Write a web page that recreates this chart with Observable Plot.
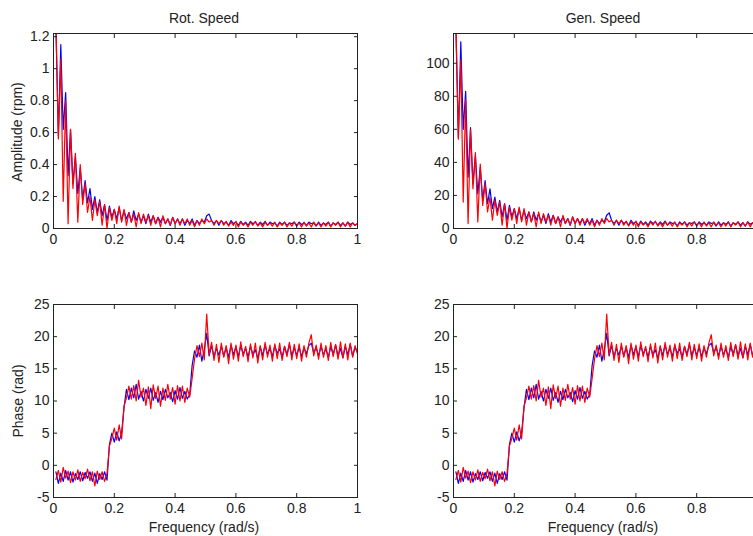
<!DOCTYPE html>
<html>
<head>
<meta charset="utf-8">
<script src="https://cdn.jsdelivr.net/npm/d3@7"></script>
<script src="https://cdn.jsdelivr.net/npm/@observablehq/plot@0.6"></script>
<style>
  html, body { margin: 0; padding: 0; background: #fff; }
  #wrap { position: relative; width: 753px; height: 536px; overflow: hidden; background: #fff;
          font-family: "Liberation Sans", Arial, sans-serif; color: #222; }
  .pl { position: absolute; }
  .lbl { position: absolute; font-size: 14px; line-height: 1; white-space: nowrap; transform: translate(-50%, -50%); }
  .rot { transform: translate(-50%, -50%) rotate(-90deg); }
</style>
</head>
<body>
<div id="wrap"></div>
<script>
// ---- data ----
const freqStep = 0.008;           // rad/s sampling of the spectrum
const nPoints = 125;
const titles = ["Rot. Speed", "Gen. Speed"];
const xTicks = [0, 0.2, 0.4, 0.6, 0.8, 1];
const ampRotTicks = [0, 0.2, 0.4, 0.6, 0.8, 1, 1.2];
const ampGenTicks = [0, 20, 40, 60, 80, 100];
const phaseTicks = [-5, 0, 5, 10, 15, 20, 25];

const rotAmpBlue = [
  1.25, 0.58, 1.15, 0.62, 0.85, 0.33, 0.62, 0.28, 0.45, 0.22,
  0.38, 0.18, 0.30, 0.16, 0.25, 0.12, 0.20, 0.10, 0.18, 0.08,
  0.15, 0.05, 0.14, 0.07, 0.12, 0.06, 0.13, 0.05, 0.11, 0.06,
  0.10, 0.04, 0.11, 0.05, 0.09, 0.04, 0.08, 0.03, 0.09, 0.04,
  0.08, 0.03, 0.07, 0.04, 0.07, 0.03, 0.06, 0.02, 0.07, 0.03,
  0.06, 0.03, 0.06, 0.02, 0.05, 0.03, 0.06, 0.02, 0.05, 0.03,
  0.05, 0.04, 0.08, 0.09, 0.05, 0.03, 0.05, 0.02, 0.05, 0.03,
  0.04, 0.02, 0.05, 0.03, 0.04, 0.02, 0.045, 0.025, 0.04, 0.02,
  0.045, 0.03, 0.04, 0.02, 0.04, 0.025, 0.045, 0.02, 0.04, 0.03,
  0.035, 0.015, 0.04, 0.025, 0.04, 0.02, 0.035, 0.03, 0.04, 0.015,
  0.04, 0.025, 0.035, 0.02, 0.04, 0.03, 0.035, 0.015, 0.04, 0.02,
  0.035, 0.025, 0.04, 0.015, 0.035, 0.025, 0.04, 0.02, 0.035, 0.015,
  0.04, 0.025, 0.035, 0.02, 0.03
];
const rotAmpRed = [
  1.30, 0.56, 1.06, 0.17, 0.80, 0.03, 0.62, 0.25, 0.47, 0.04,
  0.40, 0.15, 0.28, 0.10, 0.20, 0.05, 0.18, 0.08, 0.17, 0.02,
  0.15, 0.00, 0.13, 0.05, 0.12, 0.03, 0.14, 0.04, 0.12, 0.02,
  0.10, 0.04, 0.09, 0.01, 0.10, 0.03, 0.09, 0.04, 0.08, 0.02,
  0.08, 0.03, 0.07, 0.01, 0.08, 0.03, 0.06, 0.02, 0.07, 0.03,
  0.06, 0.02, 0.06, 0.03, 0.06, 0.02, 0.05, 0.01, 0.05, 0.02,
  0.06, 0.03, 0.06, 0.04, 0.05, 0.02, 0.05, 0.03, 0.05, 0.02,
  0.045, 0.015, 0.04, 0.02, 0.045, 0.01, 0.04, 0.02, 0.035, 0.01,
  0.04, 0.02, 0.045, 0.015, 0.035, 0.01, 0.04, 0.02, 0.035, 0.015,
  0.04, 0.01, 0.035, 0.02, 0.04, 0.01, 0.035, 0.015, 0.04, 0.02,
  0.035, 0.01, 0.04, 0.015, 0.035, 0.01, 0.04, 0.02, 0.035, 0.01,
  0.035, 0.015, 0.04, 0.01, 0.035, 0.02, 0.04, 0.01, 0.035, 0.015,
  0.04, 0.01, 0.035, 0.02, 0.03
];
const genAmpBlue = [
  120, 55, 113, 60, 83, 31, 61, 27, 44, 21,
  37, 17, 29, 15, 24, 12, 19, 10, 17, 7,
  15, 5, 14, 7, 12, 6, 12, 5, 11, 6,
  10, 4, 10, 5, 9, 4, 8, 3, 9, 4,
  8, 3, 7, 4, 7, 3, 6, 2, 7, 3,
  6, 3, 6, 2, 5, 3, 6, 2, 5, 3,
  5, 4, 8, 9.5, 5, 3, 5, 2, 5, 3,
  4, 2, 5, 3, 4, 2, 4.5, 2.5, 4, 2,
  4.5, 3, 4, 2, 4, 2.5, 4.5, 2, 4, 3,
  3.5, 1.5, 4, 2.5, 4, 2, 3.5, 3, 4, 1.5,
  4, 2.5, 3.5, 2, 4, 3, 3.5, 1.5, 4, 2,
  3.5, 2.5, 4, 1.5, 3.5, 2.5, 4, 2, 3.5, 1.5,
  4, 2.5, 3.5, 2, 3
];
const genAmpRed = [
  125, 54, 102, 16, 78, 3, 60, 24, 46, 4,
  39, 14, 27, 10, 19, 5, 17, 8, 16, 2,
  15, 0, 13, 5, 12, 3, 13, 4, 12, 2,
  10, 4, 9, 1, 10, 3, 9, 4, 8, 2,
  8, 3, 7, 1, 8, 3, 6, 2, 7, 3,
  6, 2, 6, 3, 6, 2, 5, 1, 5, 2,
  6, 3, 6, 4, 5, 2, 5, 3, 5, 2,
  4.5, 1.5, 4, 2, 4.5, 1, 4, 2, 3.5, 1,
  4, 2, 4.5, 1.5, 3.5, 1, 4, 2, 3.5, 1.5,
  4, 1, 3.5, 2, 4, 1, 3.5, 1.5, 4, 2,
  3.5, 1, 4, 1.5, 3.5, 1, 4, 2, 3.5, 1,
  3.5, 1.5, 4, 1, 3.5, 2, 4, 1, 3.5, 1.5,
  4, 1, 3.5, 2, 3
];
const phaseBlue = [
  -1.0, -2.8, -1.2, -2.5, -0.8, -2.3, -1.0, -2.6, -1.3, -2.2,
  -1.0, -2.4, -1.1, -2.0, -1.0, -2.5, -1.2, -2.8, -1.3, -2.2,
  -1.0, -2.3, 3.2, 5.0, 3.6, 5.2, 3.8, 5.0, 9.0, 11.8,
  10.2, 12.0, 10.5, 12.6, 10.3, 11.5, 10.0, 11.8, 10.4, 12.0,
  10.1, 11.3, 9.8, 11.5, 10.2, 11.8, 10.5, 11.3, 9.9, 11.6,
  10.3, 12.1, 10.4, 11.5, 10.3, 11.0, 15.5, 17.8, 16.8, 18.7,
  16.2, 18.0, 20.5, 17.0, 18.6, 16.9, 18.2, 17.1, 18.5, 17.0,
  18.3, 16.8, 18.7, 17.2, 18.4, 16.9, 18.6, 17.3, 18.2, 16.8,
  18.5, 17.2, 18.0, 16.6, 18.4, 17.1, 18.7, 17.3, 18.2, 16.9,
  18.6, 17.4, 18.1, 16.8, 18.5, 17.2, 18.8, 17.0, 18.3, 17.1,
  18.4, 16.9, 18.2, 17.4, 18.6, 19.0, 17.5, 18.3, 17.0, 18.5,
  17.2, 18.1, 16.8, 18.4, 17.3, 18.7, 17.0, 18.2, 16.7, 18.5,
  17.2, 18.8, 17.0, 18.3, 17.6
];
const phaseRed = [
  -2.2, -0.8, -2.6, -0.3, -2.0, -0.9, -2.7, -1.0, -2.3, -0.7,
  -2.5, -1.1, -2.1, -0.6, -2.4, -1.0, -3.2, -0.9, -2.2, -1.0,
  -2.5, -1.3, 3.0, 4.2, 5.8, 3.9, 6.3, 4.1, 9.2, 10.5,
  12.3, 10.3, 12.4, 10.0, 13.2, 10.6, 12.0, 9.3, 12.2, 8.8,
  12.5, 10.4, 12.3, 9.2, 12.0, 10.1, 12.6, 10.3, 12.1, 9.5,
  12.4, 10.0, 12.3, 9.8, 12.0, 10.6, 13.5, 16.5, 18.6, 16.9,
  19.0, 16.4, 23.5, 17.2, 19.1, 16.3, 18.8, 16.0, 19.0, 16.8,
  18.6, 15.8, 19.0, 16.5, 18.7, 16.2, 19.2, 16.9, 18.5, 16.1,
  18.9, 16.7, 19.0, 15.9, 18.6, 16.4, 19.1, 16.8, 18.7, 16.2,
  18.9, 16.6, 19.0, 16.3, 18.5, 16.9, 19.1, 16.4, 18.8, 16.6,
  18.9, 16.2, 18.6, 16.8, 19.0, 20.3, 17.0, 18.7, 16.5, 19.0,
  16.8, 18.6, 16.3, 19.1, 16.9, 18.8, 16.5, 19.2, 16.7, 18.9,
  16.4, 19.0, 16.8, 18.6, 17.3
];

// ---- build ----
const freq = d3.range(1, nPoints + 1).map(i => +(i * freqStep).toFixed(4));
const toRows = vals => vals.map((v, i) => ({f: freq[i], v})).filter(d => d.f !== undefined);
const fmt = d => String(+d.toFixed(2));
const wrap = document.getElementById("wrap");

function panel({blue, red, yDomain, yTicks, left, top, height, mt, mb, hideLastX}) {
  const ink = "#222";
  const xfmt = d => (hideLastX && d === 1) ? "" : fmt(d);
  const chart = Plot.plot({
    width: 380, height,
    marginLeft: 53, marginRight: 23, marginTop: mt, marginBottom: mb,
    style: {fontFamily: "'Liberation Sans', Arial, sans-serif", fontSize: "14px", color: ink, background: "transparent"},
    x: {domain: [0, 1]},
    y: {domain: yDomain},
    marks: [
      Plot.lineY(toRows(blue), {x: "f", y: "v", stroke: "#0000ff", strokeWidth: 1.2, clip: true}),
      Plot.lineY(toRows(red), {x: "f", y: "v", stroke: "#ff0000", strokeWidth: 1.2, clip: true}),
      Plot.frame({stroke: ink, strokeWidth: 1}),
      Plot.axisX(xTicks, {anchor: "bottom", tickSize: -4, tickPadding: 10, tickFormat: xfmt, label: null, stroke: ink}),
      Plot.axisX(xTicks, {anchor: "top", tickSize: -4, tickPadding: 8, tickFormat: () => "", label: null, stroke: ink}),
      Plot.axisY(yTicks, {anchor: "left", tickSize: -4, tickPadding: 8, tickFormat: fmt, label: null, stroke: ink}),
      Plot.axisY(yTicks, {anchor: "right", tickSize: -4, tickPadding: 8, tickFormat: () => "", label: null, stroke: ink})
    ]
  });
  chart.classList.add("pl");
  chart.style.left = left + "px";
  chart.style.top = top + "px";
  wrap.appendChild(chart);
}

panel({blue: rotAmpBlue, red: rotAmpRed, yDomain: [0, 1.22], yTicks: ampRotTicks, left: 0, top: 0, height: 250, mt: 33, mb: 22});
panel({blue: genAmpBlue, red: genAmpRed, yDomain: [0, 118], yTicks: ampGenTicks, left: 400, top: 0, height: 250, mt: 33, mb: 22, hideLastX: true});
panel({blue: phaseBlue, red: phaseRed, yDomain: [-5, 25], yTicks: phaseTicks, left: 0, top: 268, height: 268, mt: 36, mb: 39});
panel({blue: phaseBlue, red: phaseRed, yDomain: [-5, 25], yTicks: phaseTicks, left: 400, top: 268, height: 268, mt: 36, mb: 39, hideLastX: true});

function label(text, x, y, rotate) {
  const el = document.createElement("div");
  el.className = "lbl" + (rotate ? " rot" : "");
  el.textContent = text;
  el.style.left = x + "px";
  el.style.top = y + "px";
  wrap.appendChild(el);
}
label(titles[0], 204, 18);
label(titles[1], 603, 18);
label("Amplitude (rpm)", 17, 132, true);
label("Phase (rad)", 18, 401, true);
label("Frequency (rad/s)", 204, 527);
label("Frequency (rad/s)", 603, 527);
</script>
</body>
</html>
